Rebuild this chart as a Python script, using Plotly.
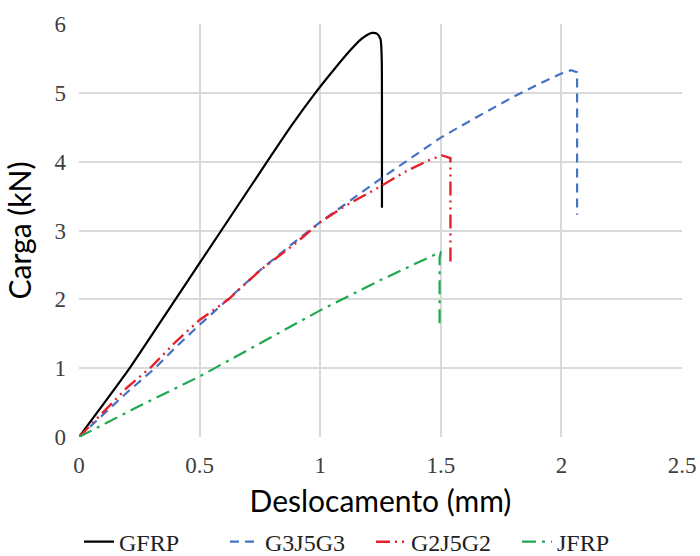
import plotly.graph_objects as go

gfrp_x = [0, 0.21, 0.40, 0.59, 0.78, 0.88, 0.98, 1.06, 1.12, 1.17, 1.20, 1.215, 1.235, 1.25, 1.255, 1.256, 1.256]
gfrp_y = [0, 1.0, 2.0, 3.0, 4.0, 4.52, 5.0, 5.35, 5.6, 5.78, 5.85, 5.87, 5.86, 5.78, 5.5, 4.5, 3.33]

g3_x = [0, 0.1, 0.2, 0.315, 0.4, 0.5, 0.6, 0.75, 0.9, 1.0, 1.25, 1.5, 1.65, 1.8, 1.92, 2.0, 2.04, 2.065, 2.065]
g3_y = [0, 0.33, 0.65, 1.0, 1.3, 1.63, 1.95, 2.42, 2.85, 3.12, 3.75, 4.35, 4.65, 4.94, 5.15, 5.28, 5.33, 5.3, 3.23]

g2_x = [0, 0.1, 0.2, 0.3, 0.4, 0.5, 0.62, 0.75, 0.9, 1.0, 1.1, 1.24, 1.35, 1.45, 1.505, 1.54, 1.54]
g2_y = [0, 0.36, 0.72, 1.02, 1.38, 1.7, 2.0, 2.42, 2.82, 3.12, 3.35, 3.62, 3.85, 4.02, 4.09, 4.05, 2.5]

jf_x = [0, 0.25, 0.5, 0.75, 1.0, 1.25, 1.4, 1.5, 1.495, 1.495]
jf_y = [0, 0.45, 0.88, 1.36, 1.84, 2.28, 2.53, 2.69, 2.6, 1.58]

xticks = [0, 0.5, 1, 1.5, 2, 2.5]
xlabels = ["0", "0.5", "1", "1.5", "2", "2.5"]
yticks = [0, 1, 2, 3, 4, 5, 6]

fig = go.Figure()
fig.add_trace(go.Scatter(x=gfrp_x, y=gfrp_y, mode="lines", name="GFRP",
                         line=dict(color="black", width=2.2, shape="spline", smoothing=0.6)))
fig.add_trace(go.Scatter(x=g3_x, y=g3_y, mode="lines", name="G3J5G3",
                         line=dict(color="#4472C4", width=2.2, dash="9px,6px")))
fig.add_trace(go.Scatter(x=g2_x, y=g2_y, mode="lines", name="G2J5G2",
                         line=dict(color="#E8202A", width=2.4, dash="14px,5px,2px,5px,2px,5px")))
fig.add_trace(go.Scatter(x=jf_x, y=jf_y, mode="lines", name="JFRP",
                         line=dict(color="#1FA84F", width=2.2, dash="14px,6px,3px,6px")))

fig.update_layout(
    width=700, height=556,
    margin=dict(l=79, r=18, t=24, b=119, autoexpand=False),
    paper_bgcolor="white", plot_bgcolor="white",
    showlegend=True,
    legend=dict(orientation="h", x=0.0, xanchor="left",
                y=-0.2, yanchor="top",
                font=dict(family="Liberation Serif", size=24, color="#222"),
                entrywidth=101, entrywidthmode="pixels", tracegroupgap=0),
)
fig.update_xaxes(range=[0, 2.5], tickvals=xticks, ticktext=xlabels,
                 showgrid=True, gridcolor="#d9d9d9", gridwidth=1.5,
                 zeroline=False, showline=False, ticks="", ticklabelstandoff=12,
                 tickfont=dict(family="Liberation Serif", size=23, color="#404040"),
                 title=dict(text="Deslocamento (mm)", font=dict(family="Lato", size=30, color="black"), standoff=13))
fig.update_yaxes(range=[0, 6], tickvals=yticks,
                 showgrid=True, gridcolor="#d9d9d9", gridwidth=1.5,
                 zeroline=False, showline=False, ticks="", ticklabelstandoff=12,
                 tickfont=dict(family="Liberation Serif", size=23, color="#404040"),
                 title=dict(text="Carga (kN)", font=dict(family="Lato", size=30, color="black"), standoff=14))

fig.write_html("out.html")
